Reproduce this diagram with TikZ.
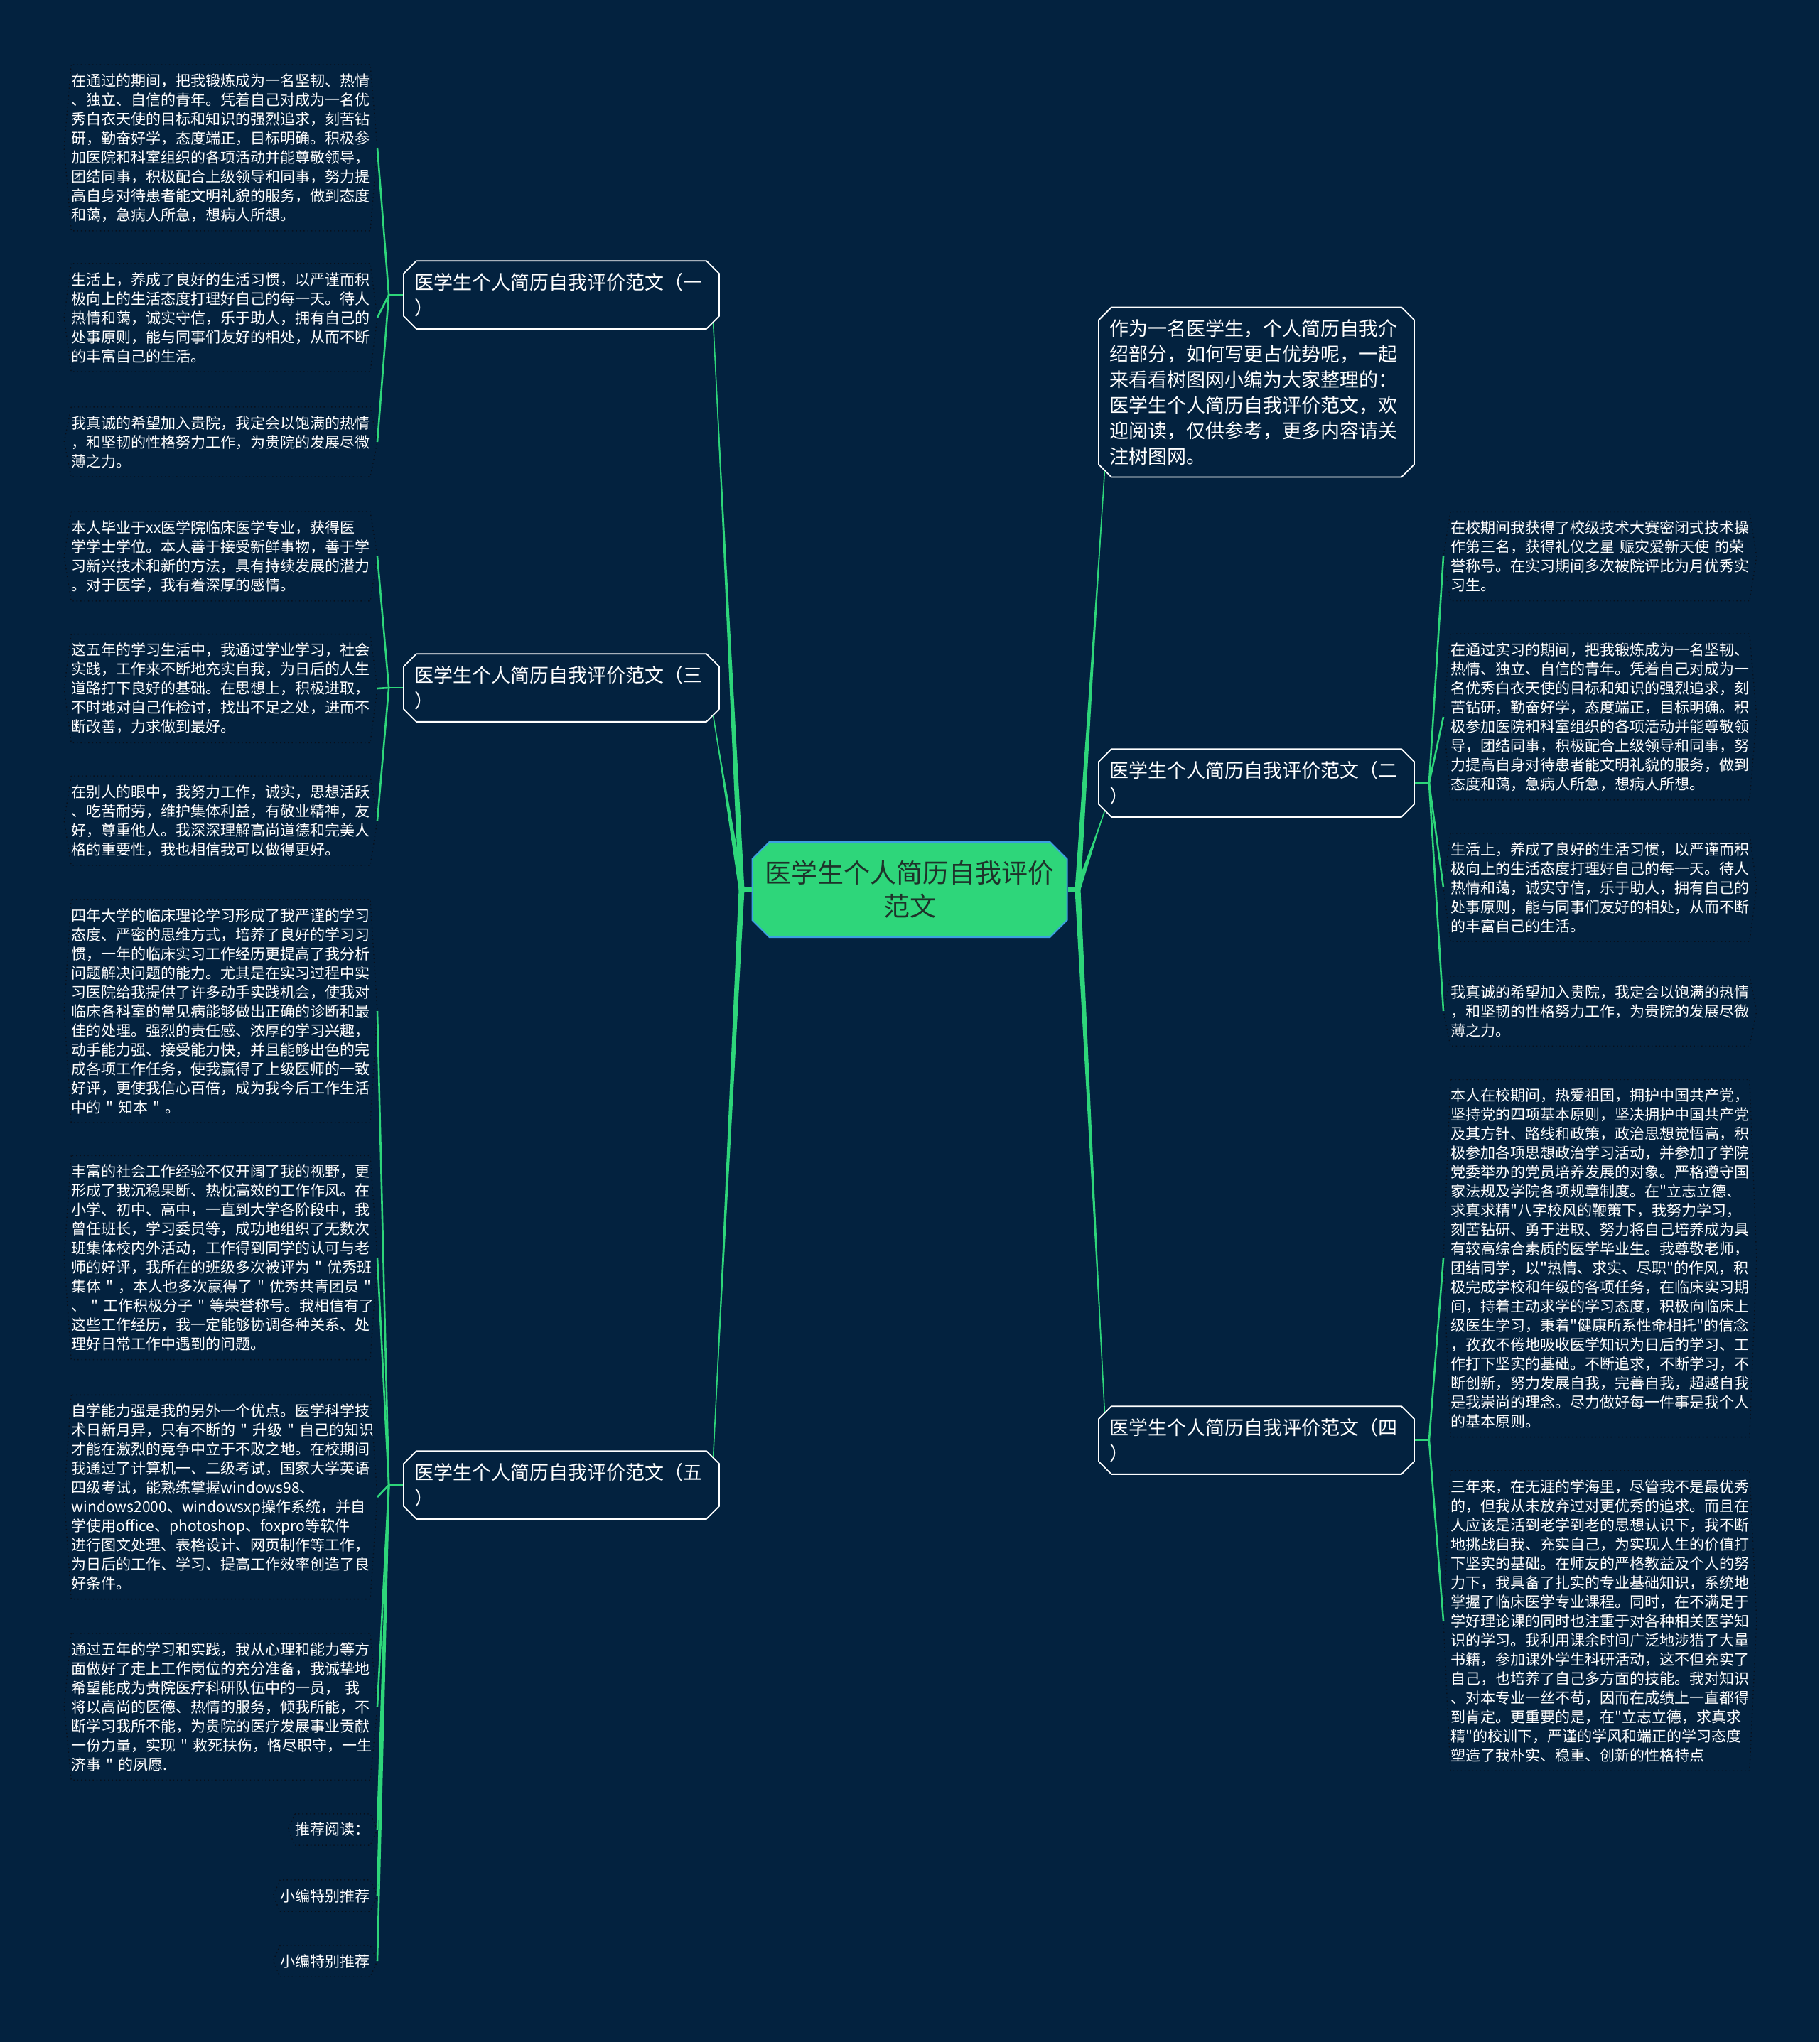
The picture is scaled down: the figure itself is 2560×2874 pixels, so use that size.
\documentclass[tikz,border=0pt]{standalone}
\usepackage{fontspec}
\newfontfamily\cjk{Noto Sans CJK SC}
\usetikzlibrary{shapes.misc,calc}
\definecolor{mapbg}{RGB}{3,34,63}
\definecolor{mapgreen}{RGB}{46,214,122}
\definecolor{rootblue}{RGB}{60,160,225}
\definecolor{roottext}{RGB}{30,50,42}
\definecolor{leafedge}{RGB}{8,16,28}
\begin{document}
\begin{tikzpicture}[x=0.5pt,y=-0.5pt,
  root/.style={chamfered rectangle,chamfered rectangle xsep=6pt,chamfered rectangle ysep=6pt,draw=rootblue,line width=1pt,fill=mapgreen,text=roottext,font={\cjk\fontsize{18.5}{23.5}\selectfont},align=center,inner xsep=3pt,minimum width=208pt,minimum height=67pt},
  branch/.style={chamfered rectangle,chamfered rectangle xsep=4.5pt,chamfered rectangle ysep=4.5pt,draw=white,line width=0.9pt,fill=mapbg,text=white,font={\cjk\fontsize{13.5}{18}\selectfont},text width=207pt,align=left,inner xsep=3pt,inner ysep=4pt},
  leaf/.style={text=white,font={\cjk\fontsize{10.5}{13.5}\selectfont},align=left,inner xsep=5pt,inner ysep=6pt},
  para/.style={leaf,text width=210pt},
  frame/.style={draw=leafedge,dotted,line width=0.7pt},
  link/.style={draw=mapgreen,line width=0.8pt},
  twig/.style={draw=mapgreen,line width=1.3pt}]
\fill[mapbg] (0,0) rectangle (2560,2874);
\useasboundingbox (0,0) rectangle (2560,2874);

\node[root] (root) at (1280,1252) {医学生个人简历自我评价\\范文};

\node[branch] (b1) at (790,415) {医学生个人简历自我评价范文（一\\）};
\node[branch] (b3) at (790,968) {医学生个人简历自我评价范文（三\\）};
\node[branch] (b5) at (790,2090) {医学生个人简历自我评价范文（五\\）};
\node[branch] (intro) at (1768,552) {作为一名医学生，个人简历自我介\\绍部分，如何写更占优势呢，一起\\来看看树图网小编为大家整理的：\\医学生个人简历自我评价范文，欢\\迎阅读，仅供参考，更多内容请关\\注树图网。};
\node[branch] (b2) at (1768,1102) {医学生个人简历自我评价范文（二\\）};
\node[branch] (b4) at (1768,2027) {医学生个人简历自我评价范文（四\\）};

\node[para,anchor=east] (l1a) at (531,208) {在通过的期间，把我锻炼成为一名坚韧、热情\\、独立、自信的青年。凭着自己对成为一名优\\秀白衣天使的目标和知识的强烈追求，刻苦钻\\研，勤奋好学，态度端正，目标明确。积极参\\加医院和科室组织的各项活动并能尊敬领导，\\团结同事，积极配合上级领导和同事，努力提\\高自身对待患者能文明礼貌的服务，做到态度\\和蔼，急病人所急，想病人所想。};
\node[para,anchor=east] (l1b) at (531,447) {生活上，养成了良好的生活习惯，以严谨而积\\极向上的生活态度打理好自己的每一天。待人\\热情和蔼，诚实守信，乐于助人，拥有自己的\\处事原则，能与同事们友好的相处，从而不断\\的丰富自己的生活。};
\node[para,anchor=east] (l1c) at (531,622) {我真诚的希望加入贵院，我定会以饱满的热情\\，和坚韧的性格努力工作，为贵院的发展尽微\\薄之力。};
\node[para,anchor=east] (l3a) at (531,783) {本人毕业于xx医学院临床医学专业，获得医\\学学士学位。本人善于接受新鲜事物，善于学\\习新兴技术和新的方法，具有持续发展的潜力\\。对于医学，我有着深厚的感情。};
\node[para,anchor=east] (l3b) at (531,969) {这五年的学习生活中，我通过学业学习，社会\\实践，工作来不断地充实自我，为日后的人生\\道路打下良好的基础。在思想上，积极进取，\\不时地对自己作检讨，找出不足之处，进而不\\断改善，力求做到最好。};
\node[para,anchor=east] (l3c) at (531,1155) {在别人的眼中，我努力工作，诚实，思想活跃\\、吃苦耐劳，维护集体利益，有敬业精神，友\\好，尊重他人。我深深理解高尚道德和完美人\\格的重要性，我也相信我可以做得更好。};
\node[para,anchor=east] (l5a) at (531,1423) {四年大学的临床理论学习形成了我严谨的学习\\态度、严密的思维方式，培养了良好的学习习\\惯，一年的临床实习工作经历更提高了我分析\\问题解决问题的能力。尤其是在实习过程中实\\习医院给我提供了许多动手实践机会，使我对\\临床各科室的常见病能够做出正确的诊断和最\\佳的处理。强烈的责任感、浓厚的学习兴趣，\\动手能力强、接受能力快，并且能够出色的完\\成各项工作任务，使我赢得了上级医师的一致\\好评，更使我信心百倍，成为我今后工作生活\\中的~"~知本~"~。};
\node[para,anchor=east] (l5b) at (531,1770) {丰富的社会工作经验不仅开阔了我的视野，更\\形成了我沉稳果断、热忱高效的工作作风。在\\小学、初中、高中，一直到大学各阶段中，我\\曾任班长，学习委员等，成功地组织了无数次\\班集体校内外活动，工作得到同学的认可与老\\师的好评，我所在的班级多次被评为~"~优秀班\\集体~"~，本人也多次赢得了~"~优秀共青团员~"\\、~"~工作积极分子~"~等荣誉称号。我相信有了\\这些工作经历，我一定能够协调各种关系、处\\理好日常工作中遇到的问题。};
\node[para,anchor=east] (l5c) at (531,2107) {自学能力强是我的另外一个优点。医学科学技\\术日新月异，只有不断的~"~升级~"~自己的知识\\才能在激烈的竞争中立于不败之地。在校期间\\我通过了计算机一、二级考试，国家大学英语\\四级考试，能熟练掌握windows98、\\windows2000、windowsxp操作系统，并自\\学使用office、photoshop、foxpro等软件\\进行图文处理、表格设计、网页制作等工作，\\为日后的工作、学习、提高工作效率创造了良\\好条件。};
\node[para,anchor=east] (l5d) at (531,2402) {通过五年的学习和实践，我从心理和能力等方\\面做好了走上工作岗位的充分准备，我诚挚地\\希望能成为贵院医疗科研队伍中的一员，~我\\将以高尚的医德、热情的服务，倾我所能，不\\断学习我所不能，为贵院的医疗发展事业贡献\\一份力量，实现~"~救死扶伤，恪尽职守，一生\\济事~"~的夙愿.};
\node[leaf,anchor=east] (l5e) at (531,2575) {推荐阅读：};
\node[leaf,anchor=east] (l5f) at (531,2668) {小编特别推荐};
\node[leaf,anchor=east] (l5g) at (531,2760) {小编特别推荐};

\node[para,anchor=west] (r2a) at (2031,783) {在校期间我获得了校级技术大赛密闭式技术操\\作第三名，获得礼仪之星~赈灾爱新天使~的荣\\誉称号。在实习期间多次被院评比为月优秀实\\习生。};
\node[para,anchor=west] (r2b) at (2031,1009) {在通过实习的期间，把我锻炼成为一名坚韧、\\热情、独立、自信的青年。凭着自己对成为一\\名优秀白衣天使的目标和知识的强烈追求，刻\\苦钻研，勤奋好学，态度端正，目标明确。积\\极参加医院和科室组织的各项活动并能尊敬领\\导，团结同事，积极配合上级领导和同事，努\\力提高自身对待患者能文明礼貌的服务，做到\\态度和蔼，急病人所急，想病人所想。};
\node[para,anchor=west] (r2c) at (2031,1249) {生活上，养成了良好的生活习惯，以严谨而积\\极向上的生活态度打理好自己的每一天。待人\\热情和蔼，诚实守信，乐于助人，拥有自己的\\处事原则，能与同事们友好的相处，从而不断\\的丰富自己的生活。};
\node[para,anchor=west] (r2d) at (2031,1423) {我真诚的希望加入贵院，我定会以饱满的热情\\，和坚韧的性格努力工作，为贵院的发展尽微\\薄之力。};
\node[para,anchor=west] (r4a) at (2031,1771) {本人在校期间，热爱祖国，拥护中国共产党，\\坚持党的四项基本原则，坚决拥护中国共产党\\及其方针、路线和政策，政治思想觉悟高，积\\极参加各项思想政治学习活动，并参加了学院\\党委举办的党员培养发展的对象。严格遵守国\\家法规及学院各项规章制度。在"立志立德、\\求真求精"八字校风的鞭策下，我努力学习，\\刻苦钻研、勇于进取、努力将自己培养成为具\\有较高综合素质的医学毕业生。我尊敬老师，\\团结同学，以"热情、求实、尽职"的作风，积\\极完成学校和年级的各项任务，在临床实习期\\间，持着主动求学的学习态度，积极向临床上\\级医生学习，秉着"健康所系性命相托"的信念\\，孜孜不倦地吸收医学知识为日后的学习、工\\作打下坚实的基础。不断追求，不断学习，不\\断创新，努力发展自我，完善自我，超越自我\\是我崇尚的理念。尽力做好每一件事是我个人\\的基本原则。};
\node[para,anchor=west] (r4b) at (2031,2281) {三年来，在无涯的学海里，尽管我不是最优秀\\的，但我从未放弃过对更优秀的追求。而且在\\人应该是活到老学到老的思想认识下，我不断\\地挑战自我、充实自己，为实现人生的价值打\\下坚实的基础。在师友的严格教益及个人的努\\力下，我具备了扎实的专业基础知识，系统地\\掌握了临床医学专业课程。同时，在不满足于\\学好理论课的同时也注重于对各种相关医学知\\识的学习。我利用课余时间广泛地涉猎了大量\\书籍，参加课外学生科研活动，这不但充实了\\自己，也培养了自己多方面的技能。我对知识\\、对本专业一丝不苟，因而在成绩上一直都得\\到肯定。更重要的是，在"立志立德，求真求\\精"的校训下，严谨的学风和端正的学习态度\\塑造了我朴实、稳重、创新的性格特点};

\foreach \n in {l1a,l1b,l1c,l3a,l3b,l3c,l5a,l5b,l5c,l5d,l5e,l5f,l5g,r2a,r2b,r2c,r2d,r4a,r4b}
  \draw[frame] ($(\n.north west)+(10,0)$) -- (\n.west) -- ($(\n.south west)+(10,0)$) -- ($(\n.south east)+(-10,0)$) -- (\n.east) -- ($(\n.north east)+(-10,0)$) -- cycle;

\coordinate (rootL) at ($(root.west)+(-14,0)$);
\coordinate (rootR) at ($(root.east)+(14,0)$);
\draw[mapgreen,line width=4pt] (root.west) -- (rootL);
\draw[mapgreen,line width=4pt] (root.east) -- (rootR);
\foreach \b/\a in {b1/south east,b3/south east,b5/north east} {
  \fill[mapgreen] ($(rootL)+(-4,0)$) -- (\b.\a) -- ($(rootL)+(4,0)$) -- cycle;
  \draw[link] (rootL) -- (\b.\a);
}
\foreach \b/\a in {intro/south west,b2/south west,b4/north west} {
  \fill[mapgreen] ($(rootR)+(-4,0)$) -- (\b.\a) -- ($(rootR)+(4,0)$) -- cycle;
  \draw[link] (rootR) -- (\b.\a);
}

\draw[twig] (b1.west) -- ++(-20,0) coordinate (j1);
\draw[twig] (b3.west) -- ++(-20,0) coordinate (j3);
\draw[twig] (b5.west) -- ++(-20,0) coordinate (j5);
\draw[twig] (b2.east) -- ++(20,0) coordinate (j2);
\draw[twig] (b4.east) -- ++(20,0) coordinate (j4);
\foreach \l in {l1a,l1b,l1c} \draw[twig] (j1) -- (\l.east);
\foreach \l in {l3a,l3b,l3c} \draw[twig] (j3) -- (\l.east);
\foreach \l in {l5a,l5b,l5c,l5d,l5e,l5f,l5g} \draw[twig] (j5) -- (\l.east);
\foreach \l in {r2a,r2b,r2c,r2d} \draw[twig] (j2) -- (\l.west);
\foreach \l in {r4a,r4b} \draw[twig] (j4) -- (\l.west);
\end{tikzpicture}
\end{document}
